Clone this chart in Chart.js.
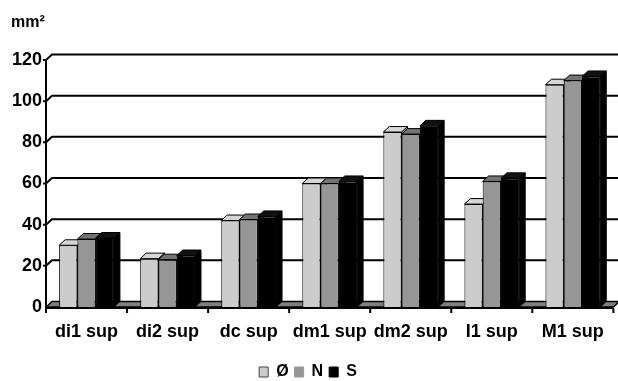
<!DOCTYPE html>
<html>
<head>
<meta charset="utf-8">
<script src="https://cdn.jsdelivr.net/npm/chart.js@4/dist/chart.umd.min.js"></script>
<style>
  html, body { margin: 0; padding: 0; background: #fff; }
  canvas { display: block; }
</style>
</head>
<body>
<canvas id="c" width="618" height="381"></canvas>
<script>
// Surface areas per tooth (mm²), three groups
const categories = ['di1 sup', 'di2 sup', 'dc sup', 'dm1 sup', 'dm2 sup', 'I1 sup', 'M1 sup'];
const seriesNames = ['Ø', 'N', 'S'];
const valuesO = [30, 23.5, 42, 60, 85, 50, 108];
const valuesN = [33, 23, 42.5, 60, 84, 61, 110];
const valuesS = [33.5, 25, 44, 61, 88, 62.5, 112];
const yTicks = [0, 20, 40, 60, 80, 100, 120];
const unitLabel = 'mm²';

// depth offset of the pseudo-3D boxes
const DX = 6, DY = 5.5;
const FONT = 'Liberation Sans, Arial, sans-serif';
const faces = [
  { front: '#cccccc', top: '#d6d6d6', side: '#a8a8a8' },
  { front: '#969696', top: '#747474', side: '#6c6c6c' },
  { front: '#000000', top: '#111111', side: '#000000' }
];

const box3d = {
  id: 'box3d',
  beforeDatasetsDraw(chart) {
    const { ctx, chartArea: a, scales: { y } } = chart;
    ctx.save();
    ctx.strokeStyle = '#000';
    ctx.lineJoin = 'round';

    // back wall grid lines with their slanted side-wall part
    ctx.lineWidth = 2;
    yTicks.forEach(v => {
      if (v === 0) return;
      const yf = y.getPixelForValue(v);
      ctx.beginPath();
      ctx.moveTo(a.left - 3, yf);
      ctx.lineTo(a.left, yf);
      ctx.lineTo(a.left + DX, yf - DY);
      ctx.lineTo(a.right + DX, yf - DY);
      ctx.stroke();
    });

    // floor
    ctx.beginPath();
    ctx.moveTo(a.left, a.bottom);
    ctx.lineTo(a.left + DX, a.bottom - DY);
    ctx.lineTo(a.right + DX, a.bottom - DY);
    ctx.lineTo(a.right, a.bottom);
    ctx.closePath();
    ctx.fillStyle = '#808080';
    ctx.fill();
    ctx.lineWidth = 1.5;
    ctx.stroke();

    // side and top faces of every bar, series by series
    ctx.lineWidth = 1;
    chart.data.datasets.forEach((ds, di) => {
      const meta = chart.getDatasetMeta(di);
      meta.data.forEach(bar => {
        const p = bar.getProps(['x', 'y', 'base', 'width'], true);
        const l = p.x - p.width / 2, r = p.x + p.width / 2;
        ctx.beginPath();
        ctx.moveTo(r, p.y);
        ctx.lineTo(r + DX, p.y - DY);
        ctx.lineTo(r + DX, p.base - DY);
        ctx.lineTo(r, p.base);
        ctx.closePath();
        ctx.fillStyle = faces[di].side;
        ctx.fill();
        ctx.stroke();

        ctx.beginPath();
        ctx.moveTo(l, p.y);
        ctx.lineTo(l + DX, p.y - DY);
        ctx.lineTo(r + DX, p.y - DY);
        ctx.lineTo(r, p.y);
        ctx.closePath();
        ctx.fillStyle = faces[di].top;
        ctx.fill();
        ctx.stroke();
      });
    });
    ctx.restore();
  },
  afterDatasetsDraw(chart) {
    const { ctx, chartArea: a, scales: { y } } = chart;
    ctx.save();
    ctx.strokeStyle = '#000';
    ctx.lineWidth = 2;
    // value axis
    ctx.beginPath();
    ctx.moveTo(a.left, y.getPixelForValue(yTicks[yTicks.length - 1]));
    ctx.lineTo(a.left, a.bottom + 1);
    ctx.stroke();
    // category axis with separator ticks
    ctx.beginPath();
    ctx.moveTo(a.left, a.bottom + 1);
    ctx.lineTo(a.right, a.bottom + 1);
    const step = (a.right - a.left) / categories.length;
    for (let i = 0; i <= categories.length; i++) {
      const xx = a.left + i * step;
      ctx.moveTo(xx, a.bottom + 1);
      ctx.lineTo(xx, a.bottom + 6);
    }
    ctx.stroke();
    // unit label
    ctx.fillStyle = '#000';
    ctx.font = 'bold 16px ' + FONT;
    ctx.textBaseline = 'middle';
    ctx.textAlign = 'left';
    ctx.fillText(unitLabel, 11, 23);
    ctx.restore();
  }
};

new Chart(document.getElementById('c'), {
  type: 'bar',
  data: {
    labels: categories,
    datasets: [
      { label: seriesNames[0], data: valuesO, backgroundColor: faces[0].front, borderColor: '#000', borderWidth: 1 },
      { label: seriesNames[1], data: valuesN, backgroundColor: faces[1].front, borderColor: '#000', borderWidth: 1 },
      { label: seriesNames[2], data: valuesS, backgroundColor: faces[2].front, borderColor: '#000', borderWidth: 1 }
    ]
  },
  options: {
    responsive: false,
    animation: false,
    layout: { padding: { left: 0, right: 2, top: 60, bottom: -9 } },
    datasets: { bar: { categoryPercentage: 0.676, barPercentage: 1 } },
    scales: {
      x: {
        grid: { display: false, drawTicks: false },
        border: { display: false },
        ticks: { color: '#000', font: { family: FONT, size: 18, weight: 'bold' }, padding: 14, maxRotation: 0 },
        afterFit(s) { s.height = 51; }
      },
      y: {
        min: 0,
        max: 120,
        grid: { display: false, drawTicks: false },
        border: { display: false },
        ticks: { stepSize: 20, color: '#000', font: { family: FONT, size: 18, weight: 'bold' }, padding: 4 },
        afterFit(s) { s.width = 46; }
      }
    },
    plugins: {
      legend: {
        position: 'bottom',
        labels: {
          color: '#000',
          boxWidth: 9,
          boxHeight: 10,
          padding: 6,
          font: { family: FONT, size: 16, weight: 'bold' },
          generateLabels(chart) {
            return chart.data.datasets.map((ds, i) => ({
              text: ds.label,
              fillStyle: ds.backgroundColor,
              strokeStyle: i === 0 ? '#444' : ds.backgroundColor,
              lineWidth: 1,
              hidden: false,
              datasetIndex: i,
              fontColor: '#000'
            }));
          }
        }
      },
      tooltip: { enabled: false }
    }
  },
  plugins: [box3d]
});
</script>
</body>
</html>
